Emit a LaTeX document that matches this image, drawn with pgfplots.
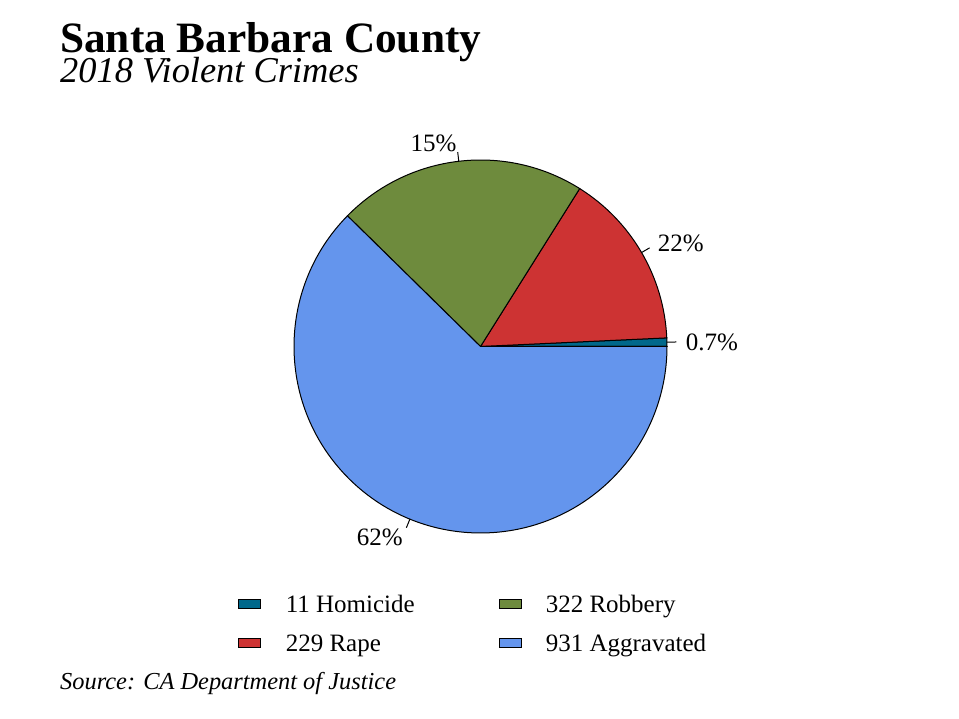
\documentclass[border=0pt]{standalone}
\usepackage{graphicx}
\usepackage{pgfplots}
\usepackage{pgfplotstable}
\usepgfplotslibrary{polar}
\pgfplotsset{compat=1.18}
\usepackage{fontspec}
\setmainfont{Liberation Serif}
\definecolor{homcol}{HTML}{00688B}
\definecolor{rapecol}{HTML}{CD3333}
\definecolor{robcol}{HTML}{6E8B3D}
\definecolor{aggcol}{HTML}{6495ED}
\pgfplotstableread{
count crime
11 Homicide
229 Rape
322 Robbery
931 Aggravated
}\crimedata
\begin{document}
\begin{tikzpicture}
\path (0pt,0pt) rectangle (959pt,719pt);
\pgfplotstablegetelem{0}{count}\of\crimedata\let\cA\pgfplotsretval
\pgfplotstablegetelem{1}{count}\of\crimedata\let\cB\pgfplotsretval
\pgfplotstablegetelem{2}{count}\of\crimedata\let\cC\pgfplotsretval
\pgfplotstablegetelem{3}{count}\of\crimedata\let\cD\pgfplotsretval
\pgfmathsetmacro\tot{\cA+\cB+\cC+\cD}
\pgfmathsetmacro\tA{360*(\cA/\tot)}
\pgfmathsetmacro\tB{360*((\cA+\cB)/\tot)}
\pgfmathsetmacro\tC{360*((\cA+\cB+\cC)/\tot)}
\pgfmathsetmacro\mA{\tA/2}
\pgfmathsetmacro\mB{(\tA+\tB)/2}
\pgfmathsetmacro\mC{(\tB+\tC)/2}
\pgfmathsetmacro\mD{(\tC+360)/2}
\begin{polaraxis}[
  at={(480.5pt,372.5pt)}, anchor=center,
  width=373pt, height=373pt, scale only axis,
  hide axis, ymin=0, ymax=1, xmin=0, xmax=360, clip=false,
  legend columns=2,
  legend image code/.code={\draw[#1] (0pt,-4.75pt) rectangle (22pt,4.75pt);},
  legend style={draw=none, fill=none, inner sep=0pt, outer sep=0pt,
    at={(axis description cs:-0.1488,-0.1659)}, anchor=north west,
    font=\fontsize{25}{30}\selectfont, row sep=21.4pt,
    nodes={inner sep=0pt, outer sep=0pt, text height=17.6pt, text depth=0pt},
    /tikz/every odd column/.append style={column sep=24.5pt},
    /tikz/every even column/.append style={column sep=83.8pt}},
  legend cell align=left,
]
\addplot[fill=homcol, draw=black, line width=1pt, forget plot] coordinates {(0,0) (0,1)} arc[start angle=0, end angle=\tA, radius=186.5pt] -- cycle;
\addplot[fill=rapecol, draw=black, line width=1pt, forget plot] coordinates {(0,0) (\tA,1)} arc[start angle=\tA, end angle=\tB, radius=186.5pt] -- cycle;
\addplot[fill=robcol, draw=black, line width=1pt, forget plot] coordinates {(0,0) (\tB,1)} arc[start angle=\tB, end angle=\tC, radius=186.5pt] -- cycle;
\addplot[fill=aggcol, draw=black, line width=1pt, forget plot] coordinates {(0,0) (\tC,1)} arc[start angle=\tC, end angle=360, radius=186.5pt] -- cycle;
% label ticks
\addplot[black, line width=1pt, forget plot] coordinates {(\mA,1) (\mA,1.05)};
\addplot[black, line width=1pt, forget plot] coordinates {(\mB,1) (\mB,1.05)};
\addplot[black, line width=1pt, forget plot] coordinates {(\mC,1) (\mC,1.05)};
\addplot[black, line width=1pt, forget plot] coordinates {(\mD,1) (\mD,1.05)};
\node[anchor=west, inner sep=0pt, text height=17.6pt, text depth=0pt, font=\fontsize{25}{30}\selectfont] at (axis cs:\mA,1.1) {0.7\%};
\node[anchor=west, inner sep=0pt, text height=17.6pt, text depth=0pt, font=\fontsize{25}{30}\selectfont] at (axis cs:\mB,1.1) {22\%};
\node[anchor=east, inner sep=0pt, text height=17.6pt, text depth=0pt, font=\fontsize{25}{30}\selectfont] at (axis cs:\mC,1.1) {15\%};
\node[anchor=east, inner sep=0pt, text height=17.6pt, text depth=0pt, font=\fontsize{25}{30}\selectfont] at (axis cs:\mD,1.1) {62\%};
% legend
\addlegendimage{fill=homcol, draw=black, line width=0.8pt}
\addlegendentry{11 Homicide}
\addlegendimage{fill=robcol, draw=black, line width=0.8pt}
\addlegendentry{322 Robbery}
\addlegendimage{fill=rapecol, draw=black, line width=0.8pt}
\addlegendentry{229 Rape}
\addlegendimage{fill=aggcol, draw=black, line width=0.8pt}
\addlegendentry{931 Aggravated}
\end{polaraxis}
\node[anchor=base west, inner sep=0pt, text depth=0pt, font=\bfseries\fontsize{43.3}{50}\selectfont] at (60pt,666pt) {Santa Barbara County};
\node[anchor=base west, inner sep=0pt, font=\itshape\fontsize{36.4}{42}\selectfont] at (60pt,636.5pt) {2018 Violent Crimes};
\node[anchor=base west, inner sep=0pt, font=\itshape\fontsize{24.4}{29}\selectfont] at (60pt,29.5pt) {Source: CA Department of Justice};
\end{tikzpicture}
\end{document}
